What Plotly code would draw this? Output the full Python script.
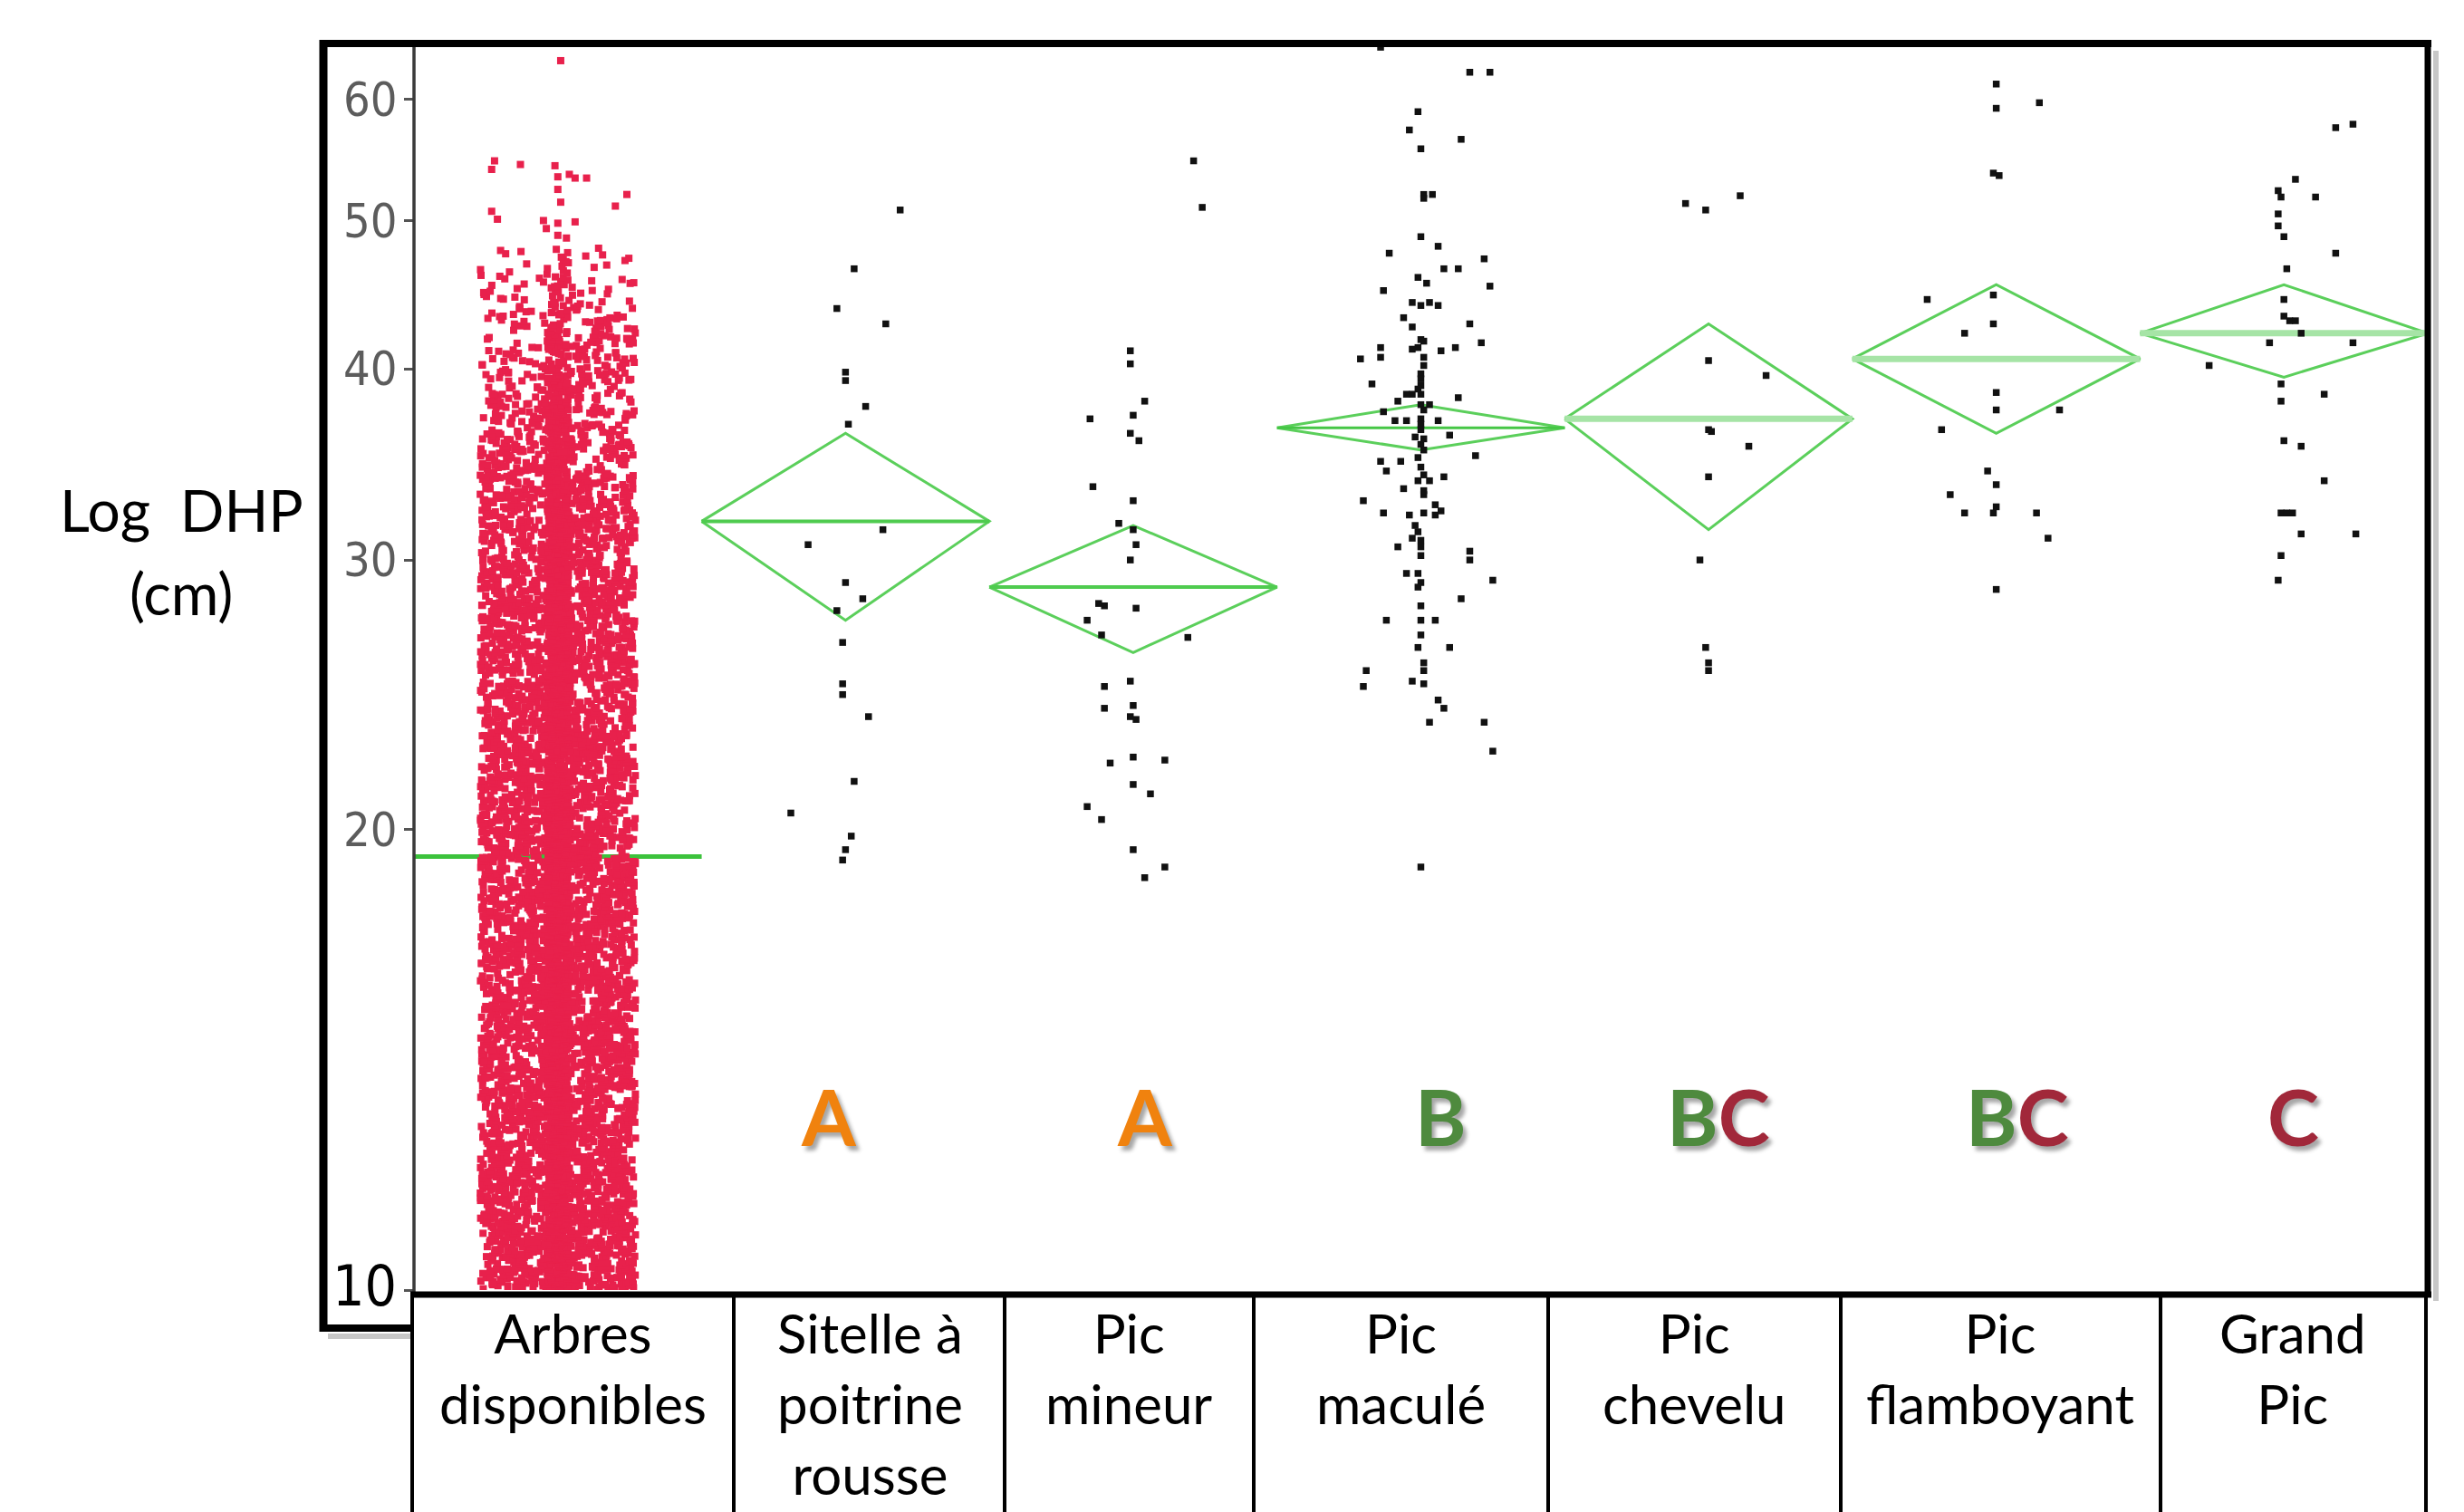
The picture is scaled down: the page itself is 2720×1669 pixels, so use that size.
import math
import plotly.graph_objects as go

# ---------------- DATA ----------------
categories = ["Arbres disponibles", "Sitelle à poitrine rousse", "Pic mineur",
              "Pic maculé", "Pic chevelu", "Pic flamboyant", "Grand Pic"]
table_labels = ["Arbres<br>disponibles", "Sitelle à<br>poitrine<br>rousse", "Pic<br>mineur",
                "Pic<br>maculé", "Pic<br>chevelu", "Pic<br>flamboyant", "Grand<br>Pic"]

# means diamonds (DHP, cm): mean and 95% interval
group_mean = [19.2, 31.8, 28.8, 36.6, 37.1, 40.6, 42.2]
group_lower = [19.1, 27.4, 26.1, 35.4, 31.4, 36.3, 39.5]
group_upper = [19.3, 36.3, 31.6, 37.9, 42.8, 45.4, 45.4]

# significance letters (parts, colour keys)
letter_parts = [[], [("A", "o")], [("A", "o")], [("B", "g")],
                [("B", "g"), ("C", "r")], [("B", "g"), ("C", "r")], [("C", "r")]]

# Available trees: counts per 2-cm DHP class (estimated from the dense cloud)
arbres_bin_edges = [10, 12, 14, 16, 18, 20, 22, 24, 26, 28, 30, 32, 34, 36, 38, 40, 42, 44, 46, 48]
arbres_bin_counts = [1080, 910, 790, 690, 620, 510, 465, 430, 390, 350,
                     305, 262, 215, 170, 135, 100, 70, 45, 25]
# isolated large trees
arbres_high_dhp = [54.7, 54.0, 54.4, 54.3, 53.4, 53.6, 53.3, 53.3, 52.4, 51.4, 52.0, 51.1,
                   50.7, 50.1, 50.0, 49.8, 49.9, 49.4, 48.9, 48.7, 63.6]
arbres_high_jitter = [-0.22, -0.23, -0.13, -0.01, 0.0, 0.04, 0.06, 0.10, 0.0, 0.01, 0.24, 0.20,
                      -0.23, -0.21, -0.05, 0.0, 0.06, -0.04, 0.0, 0.03, 0.01]

sitelle_dhp = [50.8, 46.5, 43.8, 42.8, 39.8, 39.3, 37.8, 36.8, 30.7, 31.4, 29.0, 28.3, 27.8,
               26.5, 24.9, 24.5, 23.7, 21.5, 20.5, 19.8, 19.4, 19.1]
sitelle_jitter = [0.19, 0.03, -0.03, 0.14, 0.0, 0.0, 0.07, 0.01, -0.13, 0.13, 0.0, 0.06, -0.03,
                  -0.01, -0.01, -0.01, 0.08, 0.03, -0.19, 0.02, 0.0, -0.01]

mineur_dhp = [54.7, 51.0, 41.1, 40.3, 38.1, 37.1, 37.3, 36.3, 35.9, 33.5, 32.8, 31.7, 31.4,
              30.7, 30.0, 28.1, 28.0, 27.9, 27.4, 26.8, 26.7, 25.0, 24.8, 24.0, 24.1, 23.7,
              23.6, 22.3, 22.1, 22.2, 21.4, 21.1, 20.7, 20.3, 19.4, 18.9, 18.6]
mineur_jitter = [0.21, 0.24, -0.01, -0.01, 0.04, -0.15, 0.0, -0.01, 0.02, -0.14, 0.0, -0.05, 0.0,
                 0.01, -0.01, -0.12, -0.10, 0.01, -0.16, -0.11, 0.19, -0.01, -0.10, -0.10, 0.0, -0.01,
                 0.01, 0.0, -0.08, 0.11, 0.0, 0.06, -0.16, -0.11, 0.0, 0.11, 0.04]

macule_dhp = [64.9, 62.5, 62.5, 58.9, 57.3, 56.5, 55.7, 52.0, 51.7, 52.0, 48.8, 47.6, 48.1, 47.2,
              46.5, 46.5, 45.9, 45.5, 45.0, 45.3, 44.2, 44.0, 44.2, 44.0, 43.2, 42.6, 42.8, 41.8,
              41.3, 41.7, 41.3, 40.7, 40.6, 41.2, 40.7, 41.1, 41.3, 41.6, 39.7, 39.1, 39.0, 38.5,
              38.1, 38.5, 38.5, 38.3, 37.9, 37.9, 37.5, 37.0, 37.0, 37.1, 36.5, 37.0, 36.2, 36.1,
              35.7, 35.4, 34.8, 34.8, 34.3, 35.1, 34.1, 33.8, 33.8, 34.0, 33.4, 32.8, 33.1, 32.2,
              32.6, 32.3, 32.2, 32.1, 31.6, 32.1, 30.6, 31.0, 30.6, 30.2, 30.4, 30.0, 29.4, 29.4,
              29.0, 28.8, 29.1, 28.3, 28.0, 27.4, 27.4, 27.4, 26.8, 26.3, 26.3, 25.7, 25.4, 25.4,
              24.8, 25.0, 24.9, 24.3, 24.0, 23.5, 23.5, 22.5, 18.9,
              40.2, 39.4, 38.8, 37.6, 36.8, 36.0, 35.0, 34.5, 33.3, 31.3, 30.9]
macule_jitter = [-0.14, 0.17, 0.24, -0.01, -0.04, 0.14, 0.0, 0.01, 0.01, 0.04, 0.0, -0.11, 0.06, 0.22,
                 0.08, 0.13, -0.01, 0.02, -0.13, 0.24, -0.03, 0.0, 0.03, 0.06, -0.06, -0.03, 0.17, 0.0,
                 -0.01, 0.01, -0.14, -0.14, -0.21, -0.03, 0.01, 0.07, 0.12, 0.21, 0.0, -0.17, 0.0, 0.0,
                 -0.08, -0.05, -0.03, 0.13, 0.0, 0.03, -0.13, -0.09, -0.05, 0.0, 0.0, 0.06, 0.10, -0.02,
                 0.0, 0.01, -0.14, -0.07, -0.12, 0.19, 0.01, 0.03, -0.01, 0.08, -0.06, -0.20, 0.01, 0.01,
                 0.05, 0.07, -0.13, -0.04, -0.02, 0.05, -0.08, -0.03, 0.0, 0.0, 0.17, 0.17, -0.05, -0.01,
                 0.0, -0.01, 0.25, 0.14, 0.0, 0.0, -0.12, 0.05, 0.0, -0.01, 0.10, 0.01, 0.01, -0.19,
                 -0.20, -0.03, 0.01, 0.06, 0.08, 0.03, 0.22, 0.25, 0.0,
                 0.01, 0.0, -0.01, 0.01, 0.0, 0.01, -0.01, 0.0, 0.01, -0.01, 0.0]

chevelu_dhp = [51.3, 50.8, 51.9, 40.5, 39.6, 36.5, 36.4, 35.6, 34.0, 30.0, 26.3, 25.7, 25.4]
chevelu_jitter = [-0.08, -0.01, 0.11, 0.0, 0.20, 0.0, 0.01, 0.14, 0.0, -0.03, -0.01, 0.0, 0.0]

flamboyant_dhp = [61.4, 59.2, 59.7, 53.7, 53.5, 44.4, 44.7, 42.2, 42.8, 38.6, 37.6, 37.6, 36.5,
                  34.3, 33.6, 33.1, 32.2, 32.2, 32.5, 32.2, 31.0, 28.7]
flamboyant_jitter = [0.0, 0.0, 0.15, -0.01, 0.01, -0.24, -0.01, -0.11, -0.01, 0.0, 0.0, 0.22, -0.19,
                     -0.03, 0.0, -0.16, -0.11, -0.01, 0.0, 0.14, 0.18, 0.0]

grandpic_dhp = [57.5, 57.8, 53.2, 52.3, 51.8, 51.8, 50.5, 49.6, 48.8, 47.6, 46.5, 44.4, 43.3, 43.0,
                43.0, 42.2, 41.6, 41.6, 40.2, 39.1, 38.1, 38.5, 35.9, 35.6, 33.8, 32.2, 32.2, 32.2,
                31.2, 31.2, 30.2, 29.1]
grandpic_jitter = [0.18, 0.24, 0.04, -0.02, -0.01, 0.11, -0.02, -0.02, 0.0, 0.18, 0.01, 0.0, 0.0, 0.02,
                   0.04, 0.06, -0.05, 0.24, -0.26, -0.01, -0.01, 0.14, 0.0, 0.06, 0.14, -0.01, 0.01, 0.03,
                   0.06, 0.25, -0.01, -0.02]

bird_dhp = [sitelle_dhp, mineur_dhp, macule_dhp, chevelu_dhp, flamboyant_dhp, grandpic_dhp]
bird_jitter = [sitelle_jitter, mineur_jitter, macule_jitter, chevelu_jitter, flamboyant_jitter, grandpic_jitter]

# ---------------- LAYOUT HELPERS (page pixel coordinates) ----------------
W, H = 2720, 1669
OFF = 8                 # default page body margin of the html page
PL, PW = 457, 2223      # plot area left / width (page px)
PB, PH = 1424, 1372     # plot area bottom / height (page px)


def px(X):
    return (X - PL) / PW


def py(Y):
    return (PB - Y) / PH


def hjit(k, seed):
    # deterministic hash used only for the horizontal jitter of the dense cloud
    v = math.sin(k * 12.9898 + seed * 78.233) * 43758.5453
    return v - math.floor(v)


RED = "#E8214C"
DIAMOND = "#5BCF5B"
MEANLINE = ["#3CC23C", "#4FCB4F", "#4FCB4F", "#45C645", "#A6E4A6", "#A6E4A6", "#A6E4A6"]
MEANW = [5, 4, 4, 3, 7, 7, 7]
LETTER_COL = {"o": "#F0820E", "g": "#4E8A3E", "r": "#A1283A"}

fig = go.Figure()

# ---- means diamonds (behind points) ----
for i in range(len(categories)):
    if i > 0:
        fig.add_trace(go.Scatter(
            x=[i - 0.5, i, i + 0.5, i, i - 0.5],
            y=[group_mean[i], group_upper[i], group_mean[i], group_lower[i], group_mean[i]],
            mode="lines", line=dict(color=DIAMOND, width=3), hoverinfo="skip", showlegend=False))
    fig.add_trace(go.Scatter(
        x=[i - 0.5, i + 0.5], y=[group_mean[i], group_mean[i]],
        mode="lines", line=dict(color=MEANLINE[i], width=MEANW[i]), hoverinfo="skip", showlegend=False))

# ---- available trees cloud ----
ax, ay = [], []
k = 0
for b, n in enumerate(arbres_bin_counts):
    lo, hi = arbres_bin_edges[b], arbres_bin_edges[b + 1]
    for j in range(n):
        v = lo + (j + 0.5) / n * (hi - lo)
        u = hjit(k, 1)
        s = hjit(k, 2)
        if s < 0.28:
            off = (u - 0.5) * 0.075
        else:
            off = (u - 0.5) * 0.54
        ax.append(0 + off)
        ay.append(v)
        k += 1
for v, jt in zip(arbres_high_dhp, arbres_high_jitter):
    ax.append(0 + jt)
    ay.append(v)
fig.add_trace(go.Scatter(x=ax, y=ay, mode="markers",
                         marker=dict(symbol="square", size=8, color=RED, line=dict(width=0)),
                         hoverinfo="skip", showlegend=False))

# ---- bird trees ----
for gi, (vals, jit) in enumerate(zip(bird_dhp, bird_jitter)):
    c = gi + 1
    fig.add_trace(go.Scatter(x=[c + j for j in jit], y=vals, mode="markers",
                             marker=dict(symbol="square", size=7.5, color="#111111", line=dict(width=0)),
                             hoverinfo="skip", showlegend=False))

# ---------------- frame / table shapes ----------------
shapes = []


def hline(Y, X0, X1, w, col="black"):
    shapes.append(dict(type="line", xref="paper", yref="paper", x0=px(X0), x1=px(X1), y0=py(Y), y1=py(Y),
                       line=dict(color=col, width=w), layer="above"))


def vline(X, Y0, Y1, w, col="black"):
    shapes.append(dict(type="line", xref="paper", yref="paper", x0=px(X), x1=px(X), y0=py(Y0), y1=py(Y1),
                       line=dict(color=col, width=w), layer="above"))


# drop shadows
vline(2689, 56, 1436, 6, "rgba(0,0,0,0.22)")
hline(1475, 362, 457, 6, "rgba(0,0,0,0.22)")
# outer frame
vline(357, 44, 1470, 9)
hline(48, 353, 2684, 8)
vline(2680, 44, 1430, 7)
hline(1466, 353, 457, 8)
# axes
vline(457, 52, 1426, 3.5, "#3a3a3a")
hline(1429, 453, 2684, 7)
# table columns
for X in [455, 810, 1109, 1384, 1709, 2032, 2385, 2678]:
    vline(X, 1432, 1680, 4)

# ---------------- annotations ----------------
annotations = []
annotations.append(dict(xref="paper", yref="paper", x=px(200), y=py(562), xanchor="center", yanchor="middle",
                        text="Log\u00a0\u00a0DHP", showarrow=False,
                        font=dict(family="Lato", size=64, color="black")))
annotations.append(dict(xref="paper", yref="paper", x=px(200), y=py(655), xanchor="center", yanchor="middle",
                        text="(cm)", showarrow=False,
                        font=dict(family="Lato", size=64, color="black")))
annotations.append(dict(xref="paper", yref="paper", x=px(440), y=py(1419), xanchor="right", yanchor="middle",
                        text="10", showarrow=False,
                        font=dict(family="Liberation Sans Narrow, DejaVu Sans Condensed, sans-serif",
                                  size=62, color="black")))

table_centers = [632, 960, 1246, 1546, 1870, 2208, 2531]
for tx, lab in zip(table_centers, table_labels):
    annotations.append(dict(xref="paper", yref="paper", x=px(tx), y=py(1433), xanchor="center", yanchor="top",
                            text=lab, showarrow=False, align="center",
                            font=dict(family="Lato", size=60, color="black")))

letter_x = [None, 915, 1264, 1590, 1897, 2227, 2531]
for i, parts in enumerate(letter_parts):
    if not parts:
        continue
    txt = "".join(f"<span style='color:{LETTER_COL[c]}'>{ch}</span>" for ch, c in parts)
    annotations.append(dict(xref="paper", yref="paper", x=px(letter_x[i]), y=py(1231),
                            xanchor="center", yanchor="middle", text=txt, showarrow=False,
                            font=dict(family="Lato", size=86, weight="bold", color=LETTER_COL[parts[0][1]],
                                      shadow="4px 5px 4px rgba(0,0,0,0.35)")))

fig.update_layout(
    width=W - OFF, height=H - OFF, autosize=False,
    margin=dict(l=PL - OFF, r=W - PL - PW, t=PB - PH - OFF, b=H - PB, pad=0),
    paper_bgcolor="white", plot_bgcolor="white",
    showlegend=False,
    xaxis=dict(range=[-0.5, 6.5], showgrid=False, zeroline=False, showticklabels=False,
               ticks="", showline=False, fixedrange=True),
    yaxis=dict(type="log", range=[1, 1 + PH / 1689], showgrid=False, zeroline=False, showline=False,
               tickvals=[10, 20, 30, 40, 50, 60], ticktext=["", "20", "30", "40", "50", "60"],
               ticks="outside", ticklen=10, tickwidth=3, tickcolor="#555555",
               ticklabelstandoff=-3,
               tickfont=dict(family="Liberation Sans Narrow, DejaVu Sans Condensed, sans-serif",
                             size=52, color="#5c5c5c")),
    shapes=shapes,
    annotations=annotations,
)

fig.write_html("out.html")
